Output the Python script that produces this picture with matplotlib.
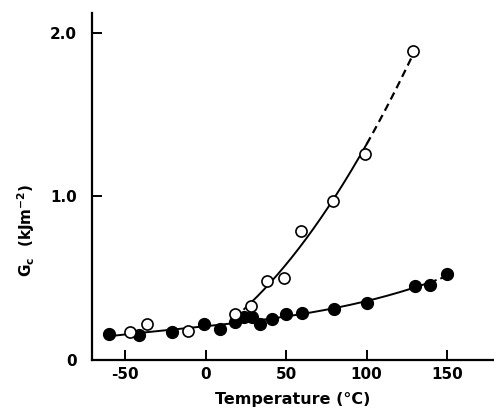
import numpy as np
import matplotlib
matplotlib.use("Agg")
import matplotlib.pyplot as plt

# open circles
open_T = [-47, -36, -11, 18, 28, 38, 49, 59, 79, 99, 129]
open_G = [0.17, 0.22, 0.18, 0.28, 0.33, 0.48, 0.50, 0.79, 0.97, 1.26, 1.89]
# filled circles
fill_T = [-60, -41, -21, -1, 9, 18, 24, 29, 34, 41, 50, 60, 80, 100, 130, 139, 150]
fill_G = [0.16, 0.15, 0.17, 0.22, 0.19, 0.23, 0.26, 0.26, 0.22, 0.25, 0.28, 0.285, 0.31, 0.35, 0.45, 0.46, 0.525]

x_ticks = [-50, 0, 50, 100, 150]
y_ticks = [0, 1.0, 2.0]
y_ticklabels = ["0", "1.0", "2.0"]

plt.rcParams['font.family'] = ['DejaVu Sans']
fig = plt.figure(figsize=(4.94, 4.11), dpi=100)
ax = fig.add_axes([0.186, 0.124, 0.814, 0.844])

# fitted curves
pf = np.polyfit(fill_T, fill_G, 3)
t1 = np.linspace(-60, 140, 200)
t2 = np.linspace(140, 150, 20)
ax.plot(t1, np.polyval(pf, t1), color='black', lw=1.4, zorder=2)
ax.plot(t2, np.polyval(pf, t2), color='black', lw=1.4, ls=(0, (3, 2)), zorder=2)

ot = np.array(open_T); og = np.array(open_G)
mask = ot >= 28
po = np.polyfit(ot[mask], og[mask], 2)
t3 = np.linspace(24, 100, 200)
t4 = np.linspace(100, 129, 50)
ax.plot(t3, np.polyval(po, t3), color='black', lw=1.4, zorder=2)
ax.plot(t4, np.polyval(po, t4), color='black', lw=1.6, ls=(0, (3.5, 2.2)), zorder=2)

ax.plot(fill_T, fill_G, 'o', color='black', ms=8.5, zorder=3)
ax.plot(open_T, open_G, 'o', mfc='white', mec='black', mew=1.2, ms=8, zorder=4)

ax.set_xlim(-70.5, 179)
ax.set_ylim(0, 2.12)
for s in ['top', 'right']:
    ax.spines[s].set_visible(False)
for s in ['left', 'bottom']:
    ax.spines[s].set_linewidth(1.6)

ax.set_xticks(x_ticks)
ax.set_xticklabels([str(v) for v in x_ticks])
ax.set_yticks(y_ticks)
ax.set_yticklabels(y_ticklabels)
ax.tick_params(axis='x', direction='in', length=7, width=1.4, pad=5, labelsize=11)
ax.tick_params(axis='y', direction='in', length=7, width=1.4, pad=11, labelsize=11)
for lab in ax.get_xticklabels() + ax.get_yticklabels():
    lab.set_fontweight('bold')

ax.set_xlabel("Temperature (°C)", fontsize=11.5, fontweight='bold', labelpad=7)
fig.text(0.052, 0.44, r"G$_\mathbf{c}$  (kJm$^{\mathbf{-2}}$)", rotation=90,
         ha='center', va='center', fontsize=11, fontweight='bold')

fig.savefig("out.png", dpi=100)
